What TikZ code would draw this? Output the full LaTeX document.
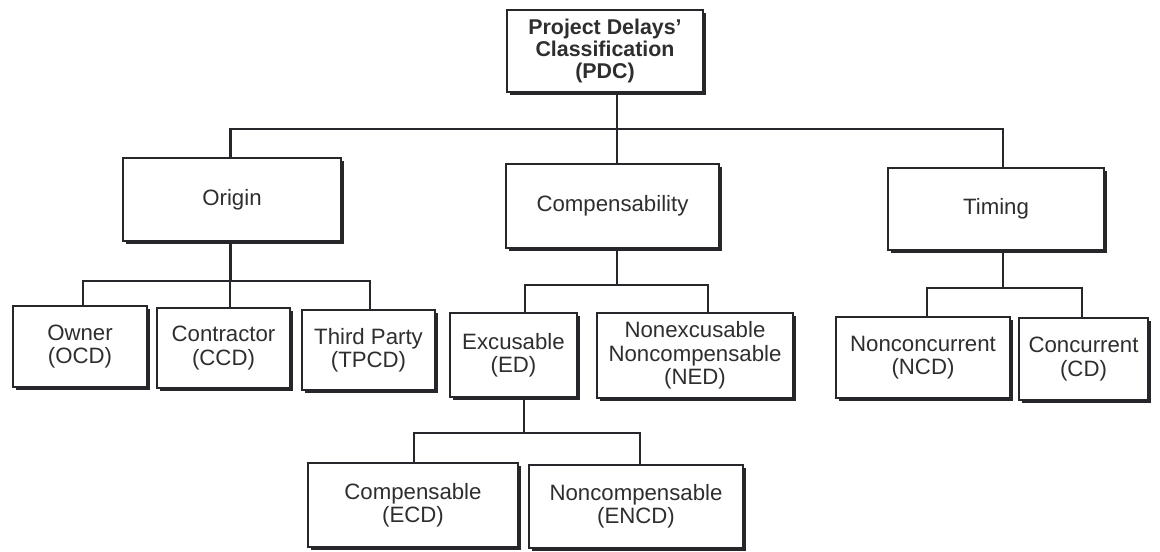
\documentclass[tikz,border=0pt]{standalone}
\usepackage{fontspec}
\setmainfont{Liberation Sans}
\usetikzlibrary{shadows}
\definecolor{ink}{HTML}{26262B}
\definecolor{txt}{HTML}{2E2E2E}
\begin{document}
\begin{tikzpicture}[x=0.025cm,y=-0.025cm,
  cbox/.style={draw=ink, line width=1.4pt, fill=white, align=center,
    text=txt, inner sep=0pt, font=\fontsize{15.8}{16.6}\selectfont,
    drop shadow={shadow xshift=1.8pt, shadow yshift=-2pt, fill=ink, opacity=1}},
  wire/.style={draw=ink, line width=1.5pt}]
\useasboundingbox[fill=white] (0,0) rectangle (1160,552);

% root
\node[cbox, minimum width=196*0.025cm, minimum height=82*0.025cm,
  font=\bfseries\fontsize{15.2}{15.8}\selectfont] (pdc) at (605,51)
  {Project Delays'\\Classification\\(PDC)};

% first level
\node[cbox, minimum width=218*0.025cm, minimum height=83*0.025cm] (origin) at (232,199.5) {Origin};
\node[cbox, minimum width=213*0.025cm, minimum height=84*0.025cm] (comp) at (612.5,206) {Compensability};
\node[cbox, minimum width=216*0.025cm, minimum height=82*0.025cm] (timing) at (996,209) {Timing};

% origin branch
\node[cbox, minimum width=134*0.025cm, minimum height=81*0.025cm] (ocd) at (80,346.5) {Owner\\(OCD)};
\node[cbox, minimum width=133*0.025cm, minimum height=80*0.025cm] (ccd) at (223.5,348) {Contractor\\(CCD)};
\node[cbox, minimum width=133*0.025cm, minimum height=80*0.025cm] (tpcd) at (368.5,350) {Third Party\\(TPCD)};

% compensability branch
\node[cbox, minimum width=127*0.025cm, minimum height=84*0.025cm] (ed) at (513.5,355) {Excusable\\(ED)};
\node[cbox, minimum width=196*0.025cm, minimum height=85*0.025cm] (ned) at (695,355.5) {Nonexcusable\\Noncompensable\\(NED)};

% timing branch
\node[cbox, minimum width=174*0.025cm, minimum height=81*0.025cm] (ncd) at (923,357.5) {Nonconcurrent\\(NCD)};
\node[cbox, minimum width=129*0.025cm, minimum height=82*0.025cm] (cd) at (1083.5,359) {Concurrent\\(CD)};

% excusable branch
\node[cbox, minimum width=210*0.025cm, minimum height=84*0.025cm] (ecd) at (413,505) {Compensable\\(ECD)};
\node[cbox, minimum width=214*0.025cm, minimum height=83*0.025cm] (encd) at (636,506.5) {Noncompensable\\(ENCD)};

% bus levels
\coordinate (busA) at (0,129);
\coordinate (busO) at (0,281);
\coordinate (busC) at (0,285);
\coordinate (busT) at (0,288);
\coordinate (busE) at (0,433);

% root connectors
\draw[wire] ([xshift=4.5*0.025cm]comp.north |- pdc.south) -- ([xshift=4.5*0.025cm]comp.north);
\draw[wire] ([xshift=-1.5*0.025cm]origin.north) |- ([xshift=7*0.025cm]timing.north |- busA) -- ([xshift=7*0.025cm]timing.north);

% origin connectors
\draw[wire] ([xshift=-1.5*0.025cm]origin.south) -- ([xshift=-1.5*0.025cm]origin.south |- busO);
\draw[wire] ([xshift=3*0.025cm]ocd.north) |- ([xshift=1.5*0.025cm]tpcd.north |- busO) -- ([xshift=1.5*0.025cm]tpcd.north);
\draw[wire] ([xshift=6.5*0.025cm]ccd.north |- busO) -- ([xshift=6.5*0.025cm]ccd.north);

% compensability connectors
\draw[wire] ([xshift=4.5*0.025cm]comp.south) -- ([xshift=4.5*0.025cm]comp.south |- busC);
\draw[wire] ([xshift=11.5*0.025cm]ed.north) |- ([xshift=13*0.025cm]ned.north |- busC) -- ([xshift=13*0.025cm]ned.north);

% timing connectors
\draw[wire] ([xshift=7*0.025cm]timing.south) -- ([xshift=7*0.025cm]timing.south |- busT);
\draw[wire] ([xshift=4*0.025cm]ncd.north) |- ([xshift=-1.5*0.025cm]cd.north |- busT) -- ([xshift=-1.5*0.025cm]cd.north);

% excusable connectors
\draw[wire] ([xshift=10.5*0.025cm]ed.south) -- ([xshift=10.5*0.025cm]ed.south |- busE);
\draw[wire] ([xshift=1*0.025cm]ecd.north) |- ([xshift=4*0.025cm]encd.north |- busE) -- ([xshift=4*0.025cm]encd.north);
\end{tikzpicture}
\end{document}
